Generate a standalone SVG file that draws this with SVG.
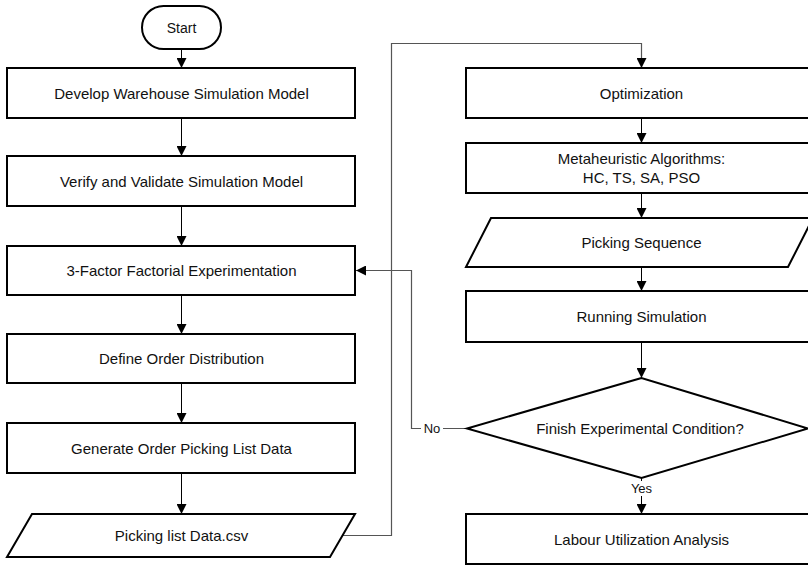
<svg xmlns="http://www.w3.org/2000/svg" width="808" height="565" viewBox="0 0 808 565">
<style>
.n{fill:#fff;stroke:#000;stroke-width:2}
.t{font-family:"Liberation Sans",Arial,Helvetica,sans-serif;font-size:15px;fill:#111;text-anchor:middle;dominant-baseline:central}
.s{font-family:"Liberation Sans",Arial,Helvetica,sans-serif;font-size:13px;fill:#111;text-anchor:middle;dominant-baseline:central}
.c{fill:none;stroke:#000;stroke-width:1}
.g{fill:none;stroke:#555;stroke-width:1.2}
</style>
<defs>
<marker id="a" viewBox="0 0 10 10" refX="10" refY="5" markerWidth="10" markerHeight="10" markerUnits="userSpaceOnUse" orient="auto">
<path d="M0,0 L10,5 L0,10 Z" fill="#000"/>
</marker>
</defs>
<g id="connectors">
<path class="c" d="M181.5,49 V68" marker-end="url(#a)"/>
<path class="c" d="M181.5,118 V156" marker-end="url(#a)"/>
<path class="c" d="M181.5,206 V246" marker-end="url(#a)"/>
<path class="c" d="M181.5,295 V334" marker-end="url(#a)"/>
<path class="c" d="M181.5,383 V423" marker-end="url(#a)"/>
<path class="c" d="M181.5,473 V514" marker-end="url(#a)"/>
<path class="g" d="M342.5,535.5 H391.5 V43.5 H641.5 V68" marker-end="url(#a)"/>
<path class="c" d="M641.5,118 V143" marker-end="url(#a)"/>
<path class="c" d="M641.5,193 V218" marker-end="url(#a)"/>
<path class="c" d="M641.5,267 V291" marker-end="url(#a)"/>
<path class="c" d="M641.5,342 V378" marker-end="url(#a)"/>
<path class="g" d="M467,428.5 H411.5 V270.5 H356" marker-end="url(#a)"/>
<path class="c" d="M641.5,478 V514" marker-end="url(#a)"/>
<rect x="421" y="420" width="22" height="16" fill="#fff"/>
<text class="s" x="432" y="428.5">No</text>
<rect x="627" y="481" width="29" height="15" fill="#fff"/>
<text class="s" x="641.5" y="488">Yes</text>
</g>
<g id="start">
<rect class="n" x="142" y="6" width="79" height="43" rx="21.5" ry="21.5"/>
<text class="t" x="181.5" y="27.5" style="font-size:14px">Start</text>
</g>
<g id="develop">
<rect class="n" x="7" y="68" width="348" height="50"/>
<text class="t" x="181.5" y="93">Develop Warehouse Simulation Model</text>
</g>
<g id="verify">
<rect class="n" x="7" y="156" width="348" height="50"/>
<text class="t" x="181.5" y="181">Verify and Validate Simulation Model</text>
</g>
<g id="factorial">
<rect class="n" x="7" y="246" width="348" height="49"/>
<text class="t" x="181.5" y="270.5">3-Factor Factorial Experimentation</text>
</g>
<g id="distribution">
<rect class="n" x="7" y="334" width="348" height="49"/>
<text class="t" x="181.5" y="358.5">Define Order Distribution</text>
</g>
<g id="generate">
<rect class="n" x="7" y="423" width="348" height="50"/>
<text class="t" x="181.5" y="448">Generate Order Picking List Data</text>
</g>
<g id="pickinglist">
<polygon class="n" points="32,514 355,514 330,557 7,557"/>
<text class="t" x="181.5" y="535.5">Picking list Data.csv</text>
</g>
<g id="optimization">
<rect class="n" x="466" y="68" width="350" height="50"/>
<text class="t" x="641.5" y="93">Optimization</text>
</g>
<g id="metaheuristic">
<rect class="n" x="466" y="143" width="350" height="50"/>
<text class="t" x="641.5" y="158.5">Metaheuristic Algorithms:</text>
<text class="t" x="641.5" y="177">HC, TS, SA, PSO</text>
</g>
<g id="sequence">
<polygon class="n" points="491,218 813,218 788,267 466,267"/>
<text class="t" x="641.5" y="242.5">Picking Sequence</text>
</g>
<g id="running">
<rect class="n" x="466" y="291" width="350" height="51"/>
<text class="t" x="641.5" y="316.5">Running Simulation</text>
</g>
<g id="decision">
<polygon class="n" points="641.5,378 467,428.5 641.5,478 808,428.5"/>
<text class="t" x="640" y="428.5">Finish Experimental Condition?</text>
</g>
<g id="labour">
<rect class="n" x="466" y="514" width="350" height="50"/>
<text class="t" x="641.5" y="539">Labour Utilization Analysis</text>
</g>
</svg>
